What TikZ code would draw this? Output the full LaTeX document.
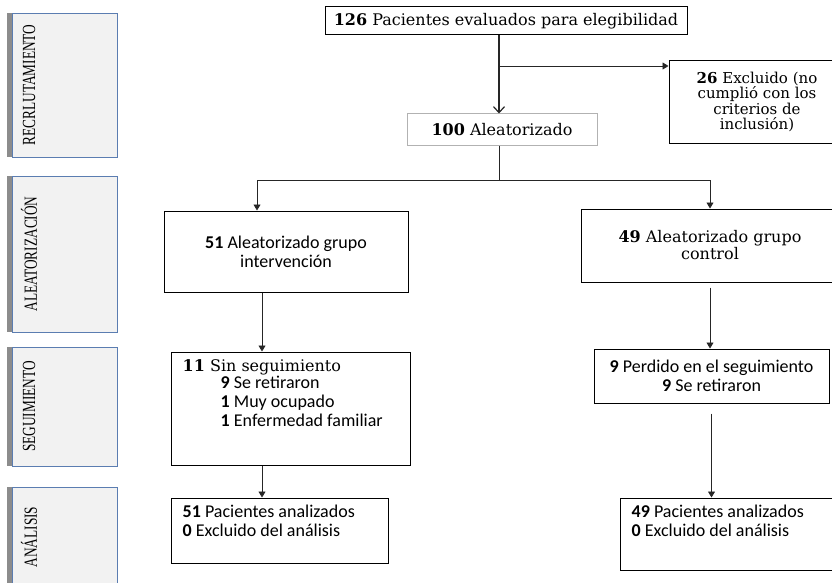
\documentclass[tikz,border=0pt]{standalone}
\usepackage{fontspec}
\setmainfont{DejaVu Serif}
\newfontfamily\calibri{Carlito}
\newfontfamily\sidefont[FakeStretch=0.72]{Liberation Serif}
\usetikzlibrary{arrows.meta,positioning}
\definecolor{sideblue}{HTML}{5B7DB1}
\definecolor{sidegray}{HTML}{F2F2F2}
\definecolor{bandgray}{HTML}{8C8C8C}
\definecolor{linegray}{HTML}{262626}

\begin{document}
\begin{tikzpicture}[x=1pt, y=-1pt,
    stage/.style={draw=sideblue, fill=sidegray, line width=0.8pt, minimum width=105pt},
    stagetext/.style={rotate=90, font=\sidefont\fontsize{18.5}{20}\selectfont},
    box/.style={draw, line width=1pt, inner sep=2pt, align=center},
    rmtext/.style={font=\fontsize{16}{17}\selectfont},
    sftext/.style={font=\calibri\fontsize{18}{19}\selectfont},
    arrow/.style={-{Triangle[length=6pt,width=7pt]}, line width=0.8pt, color=linegray},
    barb/.style={-{Straight Barb[length=6pt,width=11pt]}, line width=1.2pt, color=linegray}
]
\useasboundingbox (0,0) rectangle (832,583);
\clip (0,0) rectangle (832,583);

% --- stages ---
\node[stage, minimum height=144pt] (rec) at (64.5,85)    {};
\node[stage, minimum height=156pt] (ale) at (64.5,254)   {};
\node[stage, minimum height=119pt] (seg) at (64.5,406.5) {};
\node[stage, minimum height=100pt] (ana) at (64.5,537)   {};
\foreach \s in {rec,ale,seg,ana}
  \fill[bandgray] ([xshift=-5pt]\s.north west) rectangle (\s.south west);

\node[stagetext] (recT) at (29,85)    {RECRLUTAMIENTO};
\node[stagetext] (aleT) at (29,254)   {ALEATORIZACIÓN};
\node[stagetext] (segT) at (29,406.5) {SEGUIMIENTO};
\node[stagetext] (anaT) at (29,537)   {ANÁLISIS};

% --- boxes ---
\node[box, rmtext, minimum width=362pt, minimum height=28pt] (elig) at (506,21)
  {\textbf{126} Pacientes evaluados para elegibilidad};
\node[box, minimum width=176pt, minimum height=82pt,
      font=\fontsize{15}{15.5}\selectfont]                   (excl) at (757,102)
  {\textbf{26} Excluido (no\\cumplió con los\\criterios de\\inclusión)};
\node[box, rmtext, draw=gray!60, minimum width=190pt, minimum height=31pt] (rand) at (502,129.5)
  {\textbf{100} Aleatorizado};

\node[box, sftext, minimum width=244pt, minimum height=81pt] (intv) at (286,251.5)
  {\textbf{51} Aleatorizado grupo\\intervención};
\node[box, rmtext, minimum width=258pt, minimum height=73pt] (ctrl) at (710,245.5)
  {\textbf{49} Aleatorizado grupo\\control};

\node[box, minimum width=239pt, minimum height=113pt] (sin) at (290.5,408.5) {};
\node[rmtext, inner sep=0pt, below right=8pt and 12pt of sin.north west] (sinA)
  {\textbf{11} Sin seguimiento};
\node[sftext, align=left, inner sep=0pt, below right=24pt and 50pt of sin.north west] (sinB)
  {\textbf{9} Se retiraron\\\textbf{1} Muy ocupado\\\textbf{1} Enfermedad familiar};
\node[box, sftext, minimum width=235pt, minimum height=54pt] (perd) at (711.5,376)
  {\textbf{9} Perdido en el seguimiento\\\textbf{9} Se retiraron};

\node[box, minimum width=217pt, minimum height=65pt] (ana1) at (279.5,530.5) {};
\node[sftext, align=left, inner sep=0pt, below right=7pt and 12pt of ana1.north west] (ana1T)
  {\textbf{51} Pacientes analizados\\\textbf{0} Excluido del análisis};
\node[box, minimum width=225pt, minimum height=72pt] (ana2) at (732.5,534) {};
\node[sftext, align=left, inner sep=0pt, below right=7pt and 12pt of ana2.north west] (ana2T)
  {\textbf{49} Pacientes analizados\\\textbf{0} Excluido del análisis};

% --- arrows ---
\coordinate (branch) at (499,66);
\coordinate (split)  at (499,180);
\draw[barb] ([xshift=-7pt]elig.south) -- ([xshift=-3pt]rand.north);
\draw[arrow] (branch) -- (branch -| excl.west);
\draw[line width=0.8pt, color=linegray] (rand.south -| split) -- (split);
\draw[arrow] (split) -| ([xshift=-29pt]intv.north);
\draw[arrow] (split) -| (ctrl.north);
\draw[arrow] ([xshift=-24pt]intv.south) -- ([xshift=-24pt]intv.south |- sin.north);
\draw[arrow] ([xshift=-28.5pt]sin.south) -- ([xshift=-28.5pt]sin.south |- ana1.north);
\draw[arrow, shorten <=5pt] (ctrl.south) -- (ctrl.south |- perd.north);
\draw[arrow, shorten <=10pt] (perd.south) -- (perd.south |- ana2.north);

\end{tikzpicture}
\end{document}
